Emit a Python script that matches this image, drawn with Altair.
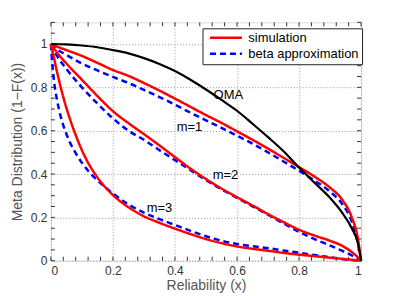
import altair as alt
import pandas as pd

# ---- data ----
oma_x = [0, 0.05, 0.1, 0.15, 0.2, 0.25, 0.3, 0.35, 0.4, 0.45, 0.5, 0.55, 0.6, 0.65, 0.7, 0.75, 0.8, 0.85, 0.9, 0.94, 0.97, 0.99, 1]
oma_y = [1, 0.998, 0.993, 0.985, 0.972, 0.957, 0.935, 0.908, 0.875, 0.835, 0.79, 0.742, 0.692, 0.632, 0.57, 0.505, 0.43, 0.36, 0.29, 0.22, 0.15, 0.08, 0]

g_x = [0, 0.02, 0.05, 0.1, 0.15, 0.2, 0.25, 0.3, 0.35, 0.4, 0.45, 0.5, 0.55, 0.6, 0.65, 0.7, 0.75, 0.8, 0.85, 0.9, 0.94, 0.97, 0.99, 1]
sim1_y = [1, 0.988, 0.972, 0.945, 0.913, 0.88, 0.853, 0.82, 0.785, 0.748, 0.71, 0.672, 0.636, 0.597, 0.558, 0.517, 0.475, 0.432, 0.388, 0.337, 0.28, 0.2, 0.1, 0]
beta1_y = [1, 0.975, 0.95, 0.91, 0.878, 0.848, 0.82, 0.788, 0.755, 0.72, 0.683, 0.648, 0.613, 0.577, 0.54, 0.5, 0.458, 0.415, 0.37, 0.318, 0.26, 0.18, 0.08, 0]
sim2_y = [1, 0.96, 0.91, 0.835, 0.76, 0.69, 0.635, 0.584, 0.532, 0.478, 0.425, 0.377, 0.333, 0.293, 0.255, 0.215, 0.178, 0.143, 0.116, 0.092, 0.068, 0.04, 0.015, 0]
beta2_y = [1, 0.945, 0.885, 0.8, 0.725, 0.657, 0.6, 0.558, 0.51, 0.464, 0.418, 0.372, 0.33, 0.29, 0.251, 0.212, 0.172, 0.133, 0.1, 0.07, 0.045, 0.024, 0.007, 0]

m3_x = [0, 0.005, 0.01, 0.02, 0.03, 0.04, 0.05, 0.06, 0.08, 0.1, 0.12, 0.14, 0.16, 0.18, 0.2, 0.25, 0.3, 0.35, 0.4, 0.45, 0.5, 0.55, 0.6, 0.65, 0.7, 0.75, 0.8, 0.85, 0.9, 0.95, 1]
sim3_y = [1, 0.968, 0.935, 0.87, 0.81, 0.755, 0.705, 0.66, 0.58, 0.51, 0.452, 0.405, 0.365, 0.332, 0.303, 0.247, 0.205, 0.175, 0.148, 0.123, 0.1, 0.081, 0.066, 0.055, 0.046, 0.036, 0.028, 0.021, 0.014, 0.007, 0]
beta3_y = [1, 0.9, 0.83, 0.74, 0.675, 0.625, 0.585, 0.55, 0.497, 0.452, 0.415, 0.385, 0.358, 0.333, 0.31, 0.26, 0.222, 0.192, 0.165, 0.138, 0.113, 0.092, 0.077, 0.067, 0.058, 0.047, 0.037, 0.026, 0.016, 0.006, 0]

label_text = ["OMA", "m=1", "m=2", "m=3"]
label_x = [0.572, 0.447, 0.563, 0.35]
label_y = [0.765, 0.618, 0.396, 0.244]

major_x = [0, 0.2, 0.4, 0.6, 0.8, 1]
major_y = [0, 0.2, 0.4, 0.6, 0.8, 1]
minor_x = [0, 0.04, 0.08, 0.12, 0.16, 0.2, 0.24, 0.28, 0.32, 0.36, 0.4, 0.44, 0.48, 0.52, 0.56, 0.6,
           0.64, 0.68, 0.72, 0.76, 0.8, 0.84, 0.88, 0.92, 0.96, 1]
minor_y = [0, 0.05, 0.1, 0.15, 0.2, 0.25, 0.3, 0.35, 0.4, 0.45, 0.5, 0.55, 0.6, 0.65, 0.7, 0.75,
           0.8, 0.85, 0.9, 0.95, 1, 1.05, 1.1]

series_names = ["simulation", "beta approximation"]

# ---- tables ----
def long(xs, ys, m, t):
    return pd.DataFrame({"x": xs, "y": ys, "m": m, "type": t})

sim_df = pd.concat([long(g_x, sim1_y, "1", series_names[0]),
                    long(g_x, sim2_y, "2", series_names[0]),
                    long(m3_x, sim3_y, "3", series_names[0])])
beta_df = pd.concat([long(g_x, beta1_y, "1", series_names[1]),
                     long(g_x, beta2_y, "2", series_names[1]),
                     long(m3_x, beta3_y, "3", series_names[1])])
oma_df = pd.DataFrame({"x": oma_x, "y": oma_y})
lab_df = pd.DataFrame({"x": label_x, "y": label_y, "text": label_text})
xt_df = pd.DataFrame({"t": minor_x})
yt_df = pd.DataFrame({"t": minor_y})

W, H = 311, 239
FONT = "Liberation Sans"

xscale = alt.Scale(domain=[0, 1], nice=False)
yscale = alt.Scale(domain=[0, 1.1], nice=False)
xaxis = alt.Axis(values=major_x, format="~g", ticks=False, domain=False, grid=True,
                 gridDash=[1, 2], gridColor="#999", gridWidth=1,
                 labelFontSize=12, labelColor="#333", labelPadding=5, labelFont=FONT,
                 title="Reliability (x)", titleFontSize=14, titleColor="#555",
                 titleFontWeight="normal", titleFont=FONT, titlePadding=2)
yaxis = alt.Axis(values=major_y, format="~g", ticks=False, domain=False, grid=True,
                 gridDash=[1, 2], gridColor="#999", gridWidth=1,
                 labelFontSize=12, labelColor="#333", labelPadding=4, labelFont=FONT,
                 title="Meta Distribution (1\u2212F(x))", titleFontSize=14, titleColor="#555",
                 titleFontWeight="normal", titleFont=FONT, titlePadding=6)

X = lambda f: alt.X(f, type="quantitative", scale=xscale, axis=xaxis)
Y = lambda f: alt.Y(f, type="quantitative", scale=yscale, axis=yaxis)

color_scale = alt.Scale(domain=series_names, range=["#ff0000", "#0000ff"])
dash_scale = alt.Scale(domain=series_names, range=[[1, 0], [6, 4]])
legend = alt.Legend(title=None, orient="none", legendX=152, legendY=6,
                    fillColor="white", strokeColor="#222", padding=3,
                    symbolType="M-1,0H15", symbolSize=16, symbolStrokeWidth=2.5,
                    labelFontSize=13, labelFont=FONT, labelColor="#000",
                    labelOffset=30, rowPadding=2, symbolOffset=0)

oma = alt.Chart(oma_df).mark_line(color="black", strokeWidth=2.2, interpolate="monotone").encode(
    x=X("x"), y=Y("y"), order="x:Q")

sim = alt.Chart(sim_df).mark_line(strokeWidth=2.5, interpolate="monotone").encode(
    x=X("x"), y=Y("y"), detail="m:N", order="x:Q",
    color=alt.Color("type:N", scale=color_scale, legend=legend),
    strokeDash=alt.StrokeDash("type:N", scale=dash_scale, legend=legend))

beta = alt.Chart(beta_df).mark_line(strokeWidth=2.5, interpolate="monotone").encode(
    x=X("x"), y=Y("y"), detail="m:N", order="x:Q",
    color=alt.Color("type:N", scale=color_scale, legend=legend),
    strokeDash=alt.StrokeDash("type:N", scale=dash_scale, legend=legend))

labels = alt.Chart(lab_df).mark_text(fontSize=13, font=FONT, color="black").encode(
    x=X("x"), y=Y("y"), text="text:N")

tick_col = "#333"
bot = alt.Chart(xt_df).mark_rule(color=tick_col, strokeWidth=1).encode(
    x=X("t"), y=alt.value(H), y2=alt.value(H - 4))
top = alt.Chart(xt_df).mark_rule(color=tick_col, strokeWidth=1).encode(
    x=X("t"), y=alt.value(0), y2=alt.value(4))
left = alt.Chart(yt_df).mark_rule(color=tick_col, strokeWidth=1).encode(
    y=Y("t"), x=alt.value(0), x2=alt.value(4))
right = alt.Chart(yt_df).mark_rule(color=tick_col, strokeWidth=1).encode(
    y=Y("t"), x=alt.value(W), x2=alt.value(W - 4))

chart = alt.layer(bot, top, left, right, beta, sim, oma, labels).properties(
    width=W, height=H,
    padding={"left": 43, "top": 14, "right": 30, "bottom": 34},
    autosize=alt.AutoSizeParams(type="none"),
).configure_view(stroke="#333", strokeWidth=1).configure(background="white")

chart.save("out.html", embed_options={"renderer": "svg", "actions": False})
